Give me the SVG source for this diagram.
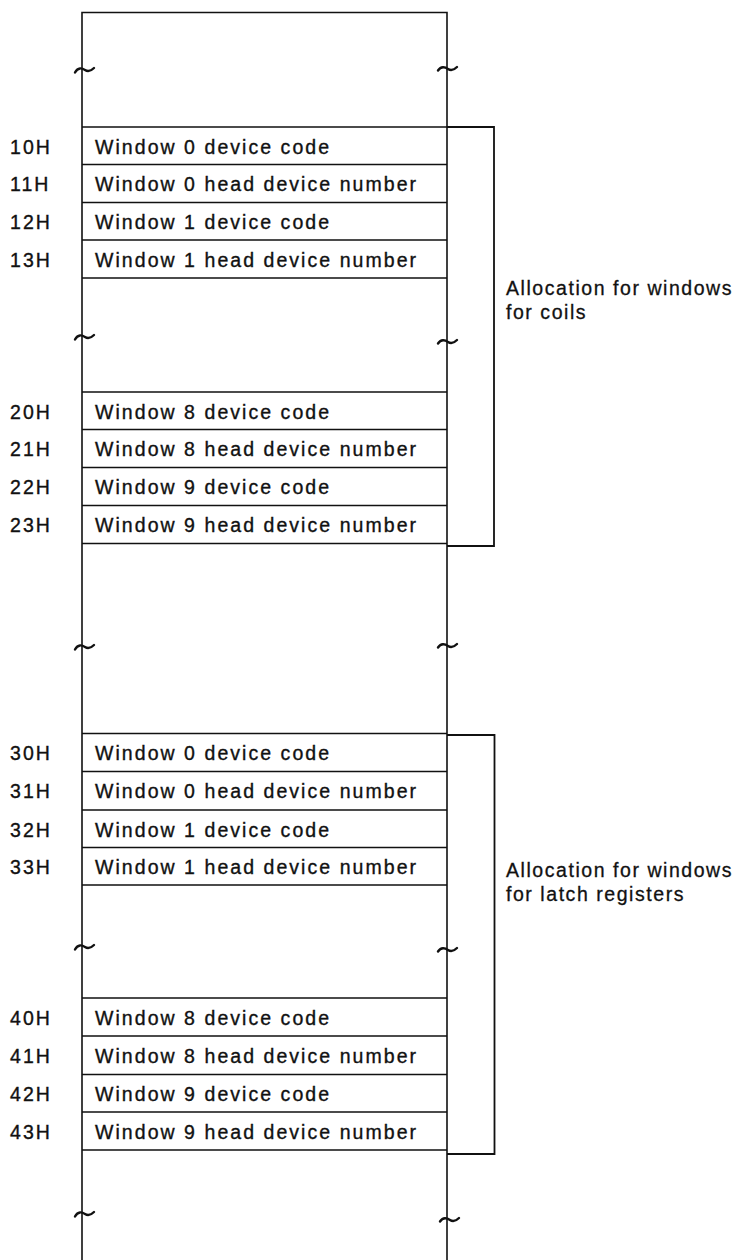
<svg xmlns="http://www.w3.org/2000/svg" width="738" height="1260" viewBox="0 0 738 1260">
<style>
.ln{stroke:#111;stroke-width:1.6;fill:none}
.br{stroke:#111;stroke-width:1.8;fill:none}
.tw{stroke:#111;stroke-width:2.4;fill:none;stroke-linecap:round}
.t{font-family:"Liberation Sans",Arial,sans-serif;font-size:19.5px;fill:#111;stroke:#111;stroke-width:0.35;letter-spacing:2.05px}
.a{font-family:"Liberation Sans",Arial,sans-serif;font-size:19.5px;fill:#111;stroke:#111;stroke-width:0.3;letter-spacing:1.55px}
</style>
<defs>
<path id="tl" d="M-7,2.5 C-4,-3 0,-2 3,0 C6,2 9,1 12,-2" class="tw"/>
<path id="tr" d="M-9,1.5 C-6,-3 -2,-2 1,0 C4,2 7,1 10,-2" class="tw"/>
</defs>
<rect width="738" height="1260" fill="#fff"/>
<g id="frame">
<path class="ln" d="M82,1260 V12.5 H447 V1260"/>
<use href="#tl" x="82" y="70"/>
<use href="#tr" x="447" y="69"/>
<use href="#tl" x="82" y="337"/>
<use href="#tr" x="447" y="342"/>
<use href="#tl" x="82" y="647"/>
<use href="#tr" x="447" y="646"/>
<use href="#tl" x="82" y="947"/>
<use href="#tr" x="447" y="950"/>
<use href="#tl" x="82" y="1214"/>
<use href="#tr" x="449" y="1220"/>
</g>
<g id="sec1">
<path class="ln" d="M82,127 H447 M82,164.5 H447 M82,202.5 H447 M82,240 H447 M82,278 H447"/>
<path class="ln" d="M82,392 H447 M82,429.5 H447 M82,467.5 H447 M82,505.5 H447 M82,543.5 H447"/>
<text class="t" x="10" y="153.5">10H</text><text class="t" x="95" y="153.5">Window 0 device code</text>
<text class="t" x="10" y="191">11H</text><text class="t" x="95" y="191">Window 0 head device number</text>
<text class="t" x="10" y="229">12H</text><text class="t" x="95" y="229">Window 1 device code</text>
<text class="t" x="10" y="266.5">13H</text><text class="t" x="95" y="266.5">Window 1 head device number</text>
<text class="t" x="10" y="418.5">20H</text><text class="t" x="95" y="418.5">Window 8 device code</text>
<text class="t" x="10" y="456">21H</text><text class="t" x="95" y="456">Window 8 head device number</text>
<text class="t" x="10" y="494">22H</text><text class="t" x="95" y="494">Window 9 device code</text>
<text class="t" x="10" y="532">23H</text><text class="t" x="95" y="532">Window 9 head device number</text>
</g>
<g id="sec2">
<path class="ln" d="M82,733.5 H447 M82,771.5 H447 M82,810 H447 M82,847.5 H447 M82,885 H447"/>
<path class="ln" d="M82,998 H447 M82,1036 H447 M82,1074.5 H447 M82,1112 H447 M82,1150 H447"/>
<text class="t" x="10" y="760">30H</text><text class="t" x="95" y="760">Window 0 device code</text>
<text class="t" x="10" y="798">31H</text><text class="t" x="95" y="798">Window 0 head device number</text>
<text class="t" x="10" y="836.5">32H</text><text class="t" x="95" y="836.5">Window 1 device code</text>
<text class="t" x="10" y="874">33H</text><text class="t" x="95" y="874">Window 1 head device number</text>
<text class="t" x="10" y="1024.5">40H</text><text class="t" x="95" y="1024.5">Window 8 device code</text>
<text class="t" x="10" y="1062.5">41H</text><text class="t" x="95" y="1062.5">Window 8 head device number</text>
<text class="t" x="10" y="1101">42H</text><text class="t" x="95" y="1101">Window 9 device code</text>
<text class="t" x="10" y="1138.5">43H</text><text class="t" x="95" y="1138.5">Window 9 head device number</text>
</g>
<g id="connectors">
<path class="br" d="M447,127 H494 V546 H447"/>
<path class="br" d="M447,735 H494.5 V1154 H447"/>
</g>
<g id="label-coils">
<text class="a" x="506" y="295">Allocation for windows</text>
<text class="a" x="506" y="319">for coils</text>
</g>
<g id="label-latch">
<text class="a" x="506" y="877">Allocation for windows</text>
<text class="a" x="506" y="901">for latch registers</text>
</g>
</svg>
